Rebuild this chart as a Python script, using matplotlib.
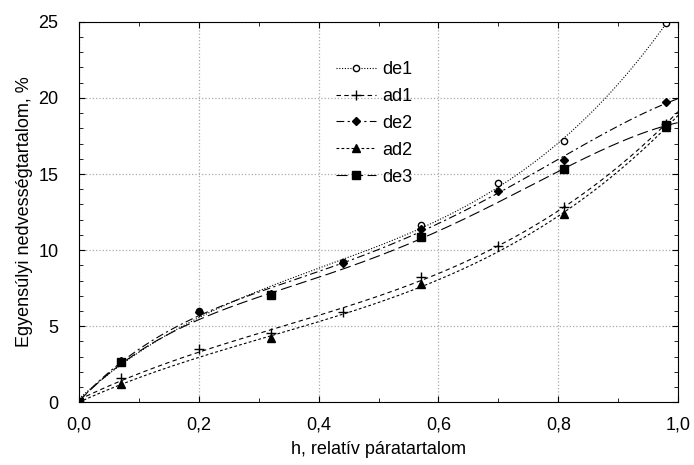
import numpy as np
import matplotlib
matplotlib.use("Agg")
import matplotlib.pyplot as plt
from matplotlib.ticker import MultipleLocator, FuncFormatter

plt.rcParams["font.family"] = ["Liberation Sans", "DejaVu Sans"]

# adatok (leolvasva)
h_de1 = [0.0, 0.07, 0.20, 0.32, 0.44, 0.57, 0.70, 0.81, 0.98]
de1 = [0.0, 2.7, 6.0, 7.1, 9.2, 11.65, 14.4, 17.15, 24.9]
h_ad1 = [0.0, 0.07, 0.20, 0.32, 0.44, 0.57, 0.70, 0.81, 0.98]
ad1 = [0.0, 1.6, 3.5, 4.55, 5.95, 8.25, 10.3, 12.8, 18.3]
h_de2 = [0.0, 0.07, 0.20, 0.32, 0.44, 0.57, 0.70, 0.81, 0.98]
de2 = [0.0, 2.7, 5.95, 7.1, 9.15, 11.4, 13.9, 15.95, 19.7]
h_ad2 = [0.0, 0.07, 0.32, 0.57, 0.81, 0.98]
ad2 = [0.0, 1.2, 4.25, 7.75, 12.35, 18.1]
h_de3 = [0.0, 0.07, 0.32, 0.57, 0.81, 0.98]
de3 = [0.0, 2.65, 7.05, 10.85, 15.3, 18.2]

names = ["de1", "ad1", "de2", "ad2", "de3"]
xs = [h_de1, h_ad1, h_de2, h_ad2, h_de3]
ys = [de1, ad1, de2, ad2, de3]
markers = ["o", "+", "D", "^", "s"]
msizes = [4.5, 7, 4.5, 5.5, 5.5]
mfc = ["white", "black", "black", "black", "black"]
lstyles = [(0, (1, 1.5)), (0, (4, 3)), (0, (7, 3, 2, 3)), (0, (2.5, 2)), (0, (10, 4))]
fokszam = [3, 3, 4, 3, 4]  # illesztett polinom foka

fig = plt.figure(figsize=(6.94, 4.65), dpi=100)
ax = fig.add_axes([0.114, 0.135, 0.863, 0.818])

hh = np.linspace(0, 1, 300)
for n, x, y, m, ms, fc, ls, k in zip(names, xs, ys, markers, msizes, mfc, lstyles, fokszam):
    x = np.array(x); y = np.array(y)
    p = np.polyfit(x, y, k)
    ax.plot(hh, np.polyval(p, hh), color="black", lw=0.8, linestyle=ls)
    ax.plot(x, y, linestyle="none", marker=m, ms=ms, mfc=fc, mec="black", mew=1.0, color="black")

# legendhez
handles = []
for n, m, ms, fc, ls in zip(names, markers, msizes, mfc, lstyles):
    hl, = ax.plot([], [], color="black", lw=0.8, linestyle=ls, marker=m, ms=ms,
                  mfc=fc, mec="black", label=n)
    handles.append(hl)

ax.set_xlim(0, 1)
ax.set_ylim(0, 25)
ax.xaxis.set_major_locator(MultipleLocator(0.2))
ax.xaxis.set_minor_locator(MultipleLocator(0.1))
ax.yaxis.set_major_locator(MultipleLocator(5))
ax.yaxis.set_minor_locator(MultipleLocator(1))
ax.xaxis.set_major_formatter(FuncFormatter(lambda v, p: ("%.1f" % v).replace(".", ",")))
ax.tick_params(which="both", direction="in", top=True, right=True, labelsize=13)
ax.tick_params(which="major", length=4)
ax.tick_params(which="minor", length=3)
ax.tick_params(axis="x", which="major", pad=10)
ax.tick_params(axis="y", which="major", pad=15)
ax.grid(True, which="major", linestyle=":", color="#aaaaaa", lw=0.9)
ax.set_xlabel("h, relatív páratartalom", fontsize=13, labelpad=6)
ax.set_ylabel("Egyensúlyi nedvességtartalom, %", fontsize=13, labelpad=4)

ax.legend(handles=handles, frameon=False,
          loc="upper left", bbox_to_anchor=(0.402, 0.94), fontsize=13,
          handlelength=2.2, handletextpad=0.35, labelspacing=0.55)

fig.savefig("out.png", dpi=100)
